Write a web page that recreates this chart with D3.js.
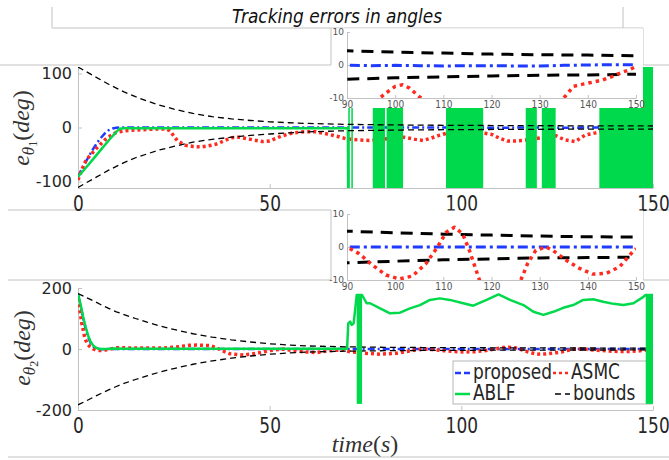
<!DOCTYPE html>
<html>
<head>
<meta charset="utf-8">
<script src="https://cdn.jsdelivr.net/npm/d3@7"></script>
<style>
  html, body { margin: 0; padding: 0; background: #fff; }
  svg { display: block; }
</style>
</head>
<body>
<svg id="grafico" width="669" height="460"></svg>
<script>

// ---------- dados (tempo em s, erro em graus) ----------

// theta 1
const tProposed1 = [0,1,2,3,4,5,6,7,8,9,10,11,12,20,30,40,50,60,70,80,90,95,100,105,110,115,120,125,130,135,140,145,150];
const eProposed1 = [-91,-77,-64,-51,-39,-28,-19,-11,-5,-2,-0.5,0,0.1,0,-0.1,0,0,-0.1,0,0,-0.1,-0.2,-0.1,-0.2,-0.3,-0.2,-0.2,-0.3,-0.3,-0.1,0,0.1,0.1];

const tAsmc1 = [0,1,2,3,4,5,6,7,8,9,10,12,14,17,20,23,24,25,26,28,30,32,34,36,38,40,42,45,48,50,53,56,59,62,65,68,70,73,76,79,82,85,88,90,92,94,96,98,100,101.5,103,105,106.5,108,110,112,114,116,118,120,122,124.6,127,129.7,132.3,135,137,139,141,143,145,147,148.5,150];
const eAsmc1 = [-97,-78,-62,-53,-45,-37,-30,-23,-17,-13,-9,-6.5,-5,-4,-3,-3,-6,-16,-25,-33,-35,-36,-34,-31,-25,-19,-18,-22,-26,-25,-16,-10,-8,-8,-12,-17,-21,-23,-24,-22,-20,-18,-22,-24,-20,-15,-11,-8.6,-6.5,-6,-7,-9.6,-11,-13,-20,-25,-25,-24,-22,-20,-18,-15,-23,-26,-14,-10,-6.5,-5.8,-5.2,-4.6,-3.5,-2.3,-1.5,-0.5];

const tAblf1 = [0,2,4,6,8,10,10.8,12,20,30,40,50,60,70,70.4,70.5];
const eAblf1 = [-91,-75,-58,-41,-24,-8,-2.5,-1.5,-1.5,-1.5,-1.5,-1.5,-1.5,-1.5,-1.5,-130];
// trechos em que o ABLF oscila de um extremo ao outro (viram blocos verdes)
const inicioOscilacao1 = [70.5,71.3,76.9,80.5,96.0,116.8,121.0,136.0];
const fimOscilacao1 = [70.9,71.7,80.1,84.8,105.7,119.7,124.6,150.0];
const extremosOscilacao1 = [-112, 112];

const tBounds1 = [0,2,4,6,8,10,12,15,18,21,25,30,35,40,45,50,55,60,70,80,90,100,110,120,130,140,150];
const boundSup1 = [112,104,96,88,80,73,66,57,49,42,34,26,20,16,13,10.5,8.8,7.5,5.8,4.9,4.3,3.9,3.6,3.3,3.1,3.0,2.8];
const boundInf1 = [-111,-103,-95,-87,-79,-72,-65,-56,-49,-42,-35,-27,-22,-18,-14.5,-12,-10,-8,-6,-5,-4.3,-3.9,-3.6,-3.3,-3.1,-3,-2.8];

// theta 2
const tProposed2 = [0,0.7,1.4,2,2.7,3.3,4,4.7,5.3,6,7,8,10,20,40,60,80,100,120,140,150];
const eProposed2 = [180,140,97,66,37,20,8,3,0.5,-1,-1,0,0,0,0,0,0,0,0,0,0];

const tAsmc2 = [0,0.5,1,1.8,2.5,3.1,4,4.9,6.6,8.4,10.2,12,15.3,22.3,26.6,29,31,34.5,36,37.1,39.7,43.1,46.6,50.1,53.5,56,58.8,62.3,65.7,69.2,71,75,78.8,83.1,88,90,92.5,95.3,98.1,100.9,103.6,106.4,108.8,110.6,112.3,114,115.4,116.8,117.5,119.7,122,124.9,126.1,127.5,129.2,131.3,132.7,135.5,138.3,141,143.8,146.6,149.7,150];
const eAsmc2 = [166,125,84,35,15,8,0,-5,-5,0,4,4,3,3,8,12,13,11,5,-3,-16,-20,-14,-5,0,-5,-9,-12,-5,-3,-9,-14,-17,-14,-3,0,-2,-5.5,-8.5,-9.7,-8.8,-5,0,4.5,6,4,-1,-7,-10,-17,-16,-12,-10,-5,-1,0,-1,-4,-6.5,-8.2,-8,-6,-0.8,-0.5];

const tAblf2 = [0,0.7,1.4,2,2.7,3.3,4,4.7,5.3,6,8,10,12,15,30,50,70.2,70.5,71,71.4,71.9,72.3,72.7,74.1,75.3,76.2,78.8,81.4,84,86.6,89.2,91.8,94.4,97,100.5,103.1,106.6,109.7,112.7,116.2,118.8,121.4,124,126.6,129.2,131.8,134.4,137,139.7,142.3,144.9,147.5,148.1,150];
const eAblf2 = [180,145,102,72,42,24,11,4,1,0,0.5,2,1,0.5,0.5,0.5,0.5,84,90,79,84,128,177,177,150,150,133,117,119,133,144,161,166,161,150,142,161,179,161,144,122,112,122,135,144,161,163,155,148,144,150,171,177,177];
const inicioOscilacao2 = [72.7,148.1];
const fimOscilacao2 = [74.1,150.0];
const extremosOscilacao2 = [-180, 177];

const tBounds2 = [0,2,4,6,8,10,12,15,18,21,25,30,35,40,45,50,55,60,70,80,90,100,110,120,130,140,150];
const boundSup2 = [182,170,158,145,133,122,113,100,88,77,64,50,39,30,23,17,13,10,7,5.6,4.8,4.3,3.9,3.6,3.3,3.1,3.0];
const boundInf2 = [-183,-171,-158,-146,-134,-123,-113,-100,-88,-77,-64,-50,-39,-30,-23,-17,-13,-10,-7,-5.6,-4.8,-4.3,-3.9,-3.6,-3.3,-3.2,-3.1];

// eixos e legenda
const ticksTempo = [0,50,100,150];
const ticksErro1 = [-100,0,100];
const ticksErro2 = [-200,0,200];
const ticksTempoZoom = [90,100,110,120,130,140,150];
const ticksErroZoom = [-10,0,10];
const nomesLegenda = ["proposed","ASMC","ABLF","bounds"];


// ---------- estilos ----------

const COR_CINZA = "#c2c2c2";
const COR_TEXTO = "#262626";

const estilos = {
    proposed: {cor:"#1f3bff", largura:2.5, traco:"7,3,2,3"},
    asmc:     {cor:"#ff2a1f", largura:3.5, traco:"3,3"},
    ablf:     {cor:"#00d94c", largura:2.5, traco:null},
    bounds:   {cor:"#000000", largura:1.3, traco:"6,4"}
};

const estilosZoom = {
    proposed: {cor:"#1f3bff", largura:3, traco:"10,4,3,4"},
    asmc:     {cor:"#ff2a1f", largura:3.5, traco:"3.5,4"},
    bounds:   {cor:"#000000", largura:3, traco:"12,8"}
};


const svg = d3.select("#grafico");

const x = d3.scaleLinear().domain([0,150]).range([78,653]);
const y1 = d3.scaleLinear().domain([-112,112]).range([188,67]);
const y2 = d3.scaleLinear().domain([-200,200]).range([410,288]);

const xZoom = d3.scaleLinear().domain([90,150]).range([347,636]);
const yZoom1 = d3.scaleLinear().domain([-10,10]).range([98,32]);
const yZoom2 = d3.scaleLinear().domain([-10,10]).range([280,214]);


function criarClip(id, xs, ys){
    svg.append("clipPath").attr("id", id)
        .append("rect")
        .attr("x", xs.range()[0])
        .attr("y", ys.range()[1])
        .attr("width", xs.range()[1] - xs.range()[0])
        .attr("height", ys.range()[0] - ys.range()[1]);
}


function desenharSerie(g, xs, ys, tempos, valores, estilo){

    const pontos = tempos.map((t, i) => [t, valores[i]]);

    const linha = d3.line()
        .x(d => xs(d[0]))
        .y(d => ys(d[1]));

    g.append("path")
        .datum(pontos)
        .attr("d", linha)
        .attr("fill", "none")
        .attr("stroke", estilo.cor)
        .attr("stroke-width", estilo.largura)
        .attr("stroke-dasharray", estilo.traco)
        .attr("stroke-linejoin", "round");
}


function desenharOscilacao(g, xs, ys, inicios, fins, extremos){

    g.selectAll(null)
        .data(inicios.map((t, i) => ({ini: t, fim: fins[i]})))
        .enter()
        .append("rect")
            .attr("x", d => xs(d.ini))
            .attr("width", d => xs(d.fim) - xs(d.ini))
            .attr("y", ys(extremos[1]))
            .attr("height", ys(extremos[0]) - ys(extremos[1]))
            .attr("fill", estilos.ablf.cor);
}


function desenharEixos(xs, ys, ticksX, ticksY, opcoes){

    const eixoX = svg.append("g")
        .attr("transform", `translate(0,${ys.range()[0]})`)
        .call(d3.axisBottom(xs)
            .tickValues(ticksX)
            .tickSizeInner(-opcoes.tamanhoTick)
            .tickSizeOuter(0)
            .tickPadding(opcoes.espacoX)
            .tickFormat(d => String(d)));

    const eixoY = svg.append("g")
        .attr("transform", `translate(${xs.range()[0]},0)`)
        .call(d3.axisLeft(ys)
            .tickValues(ticksY)
            .tickSizeInner(-opcoes.tamanhoTick)
            .tickSizeOuter(0)
            .tickPadding(opcoes.espacoY)
            .tickFormat(d => String(d)));

    [eixoX, eixoY].forEach(eixo => {
        eixo.select(".domain").attr("stroke", COR_CINZA);
        eixo.selectAll(".tick line").attr("stroke", COR_CINZA);
        eixo.selectAll("text")
            .attr("fill", opcoes.corTexto)
            .attr("font-family", "DejaVu Sans");
    });

    eixoX.selectAll("text")
        .attr("font-size", opcoes.fonteX)
        .attr("transform", `scale(1,${opcoes.esticar})`);

    eixoY.selectAll("text")
        .attr("font-size", opcoes.fonteY);
}


// ---------- molduras cinzas da figura montada ----------

const linhasMoldura = [
    [52,7,52,28], [623,7,623,28], [52,28,643,28],
    [0,65,331,65], [643,65,669,65], [331,28,331,65], [643,28,643,65],
    [8,210,331,210], [643,210,669,210], [8,280,331,280], [643,280,669,280],
    [331,210,331,280], [643,210,643,280],
    [8,457,669,457]
];

svg.append("g")
    .selectAll("line")
    .data(linhasMoldura)
    .enter()
    .append("line")
        .attr("x1", d => d[0]).attr("y1", d => d[1])
        .attr("x2", d => d[2]).attr("y2", d => d[3])
        .attr("stroke", COR_CINZA)
        .attr("stroke-width", 1);

svg.append("text")
    .attr("transform", "translate(337,23) scale(1,1.12)")
    .attr("text-anchor", "middle")
    .attr("font-family", "DejaVu Sans")
    .attr("font-style", "italic")
    .attr("font-size", 17)
    .attr("fill", "#111")
    .text("Tracking errors in angles");


// ---------- graficos principais ----------

criarClip("clip1", x, y1);
criarClip("clip2", x, y2);

const opcoesEixoPrincipal = {tamanhoTick:4, espacoX:7, espacoY:6, fonteX:17, fonteY:16, esticar:1.2, corTexto:COR_TEXTO};

desenharEixos(x, y1, ticksTempo, ticksErro1, opcoesEixoPrincipal);
desenharEixos(x, y2, ticksTempo, ticksErro2, opcoesEixoPrincipal);

const g1 = svg.append("g").attr("clip-path", "url(#clip1)");
desenharSerie(g1, x, y1, tProposed1, eProposed1, estilos.proposed);
desenharSerie(g1, x, y1, tAsmc1, eAsmc1, estilos.asmc);
desenharSerie(g1, x, y1, tAblf1, eAblf1, estilos.ablf);
desenharOscilacao(g1, x, y1, inicioOscilacao1, fimOscilacao1, extremosOscilacao1);
desenharSerie(g1, x, y1, tBounds1, boundSup1, estilos.bounds);
desenharSerie(g1, x, y1, tBounds1, boundInf1, estilos.bounds);

const g2 = svg.append("g").attr("clip-path", "url(#clip2)");
desenharSerie(g2, x, y2, tProposed2, eProposed2, estilos.proposed);
desenharSerie(g2, x, y2, tAsmc2, eAsmc2, estilos.asmc);
desenharSerie(g2, x, y2, tAblf2, eAblf2, estilos.ablf);
desenharSerie(g2, x, y2, tBounds2, boundSup2, estilos.bounds);
desenharSerie(g2, x, y2, tBounds2, boundInf2, estilos.bounds);


// ---------- legenda (grafico de baixo) ----------

const legenda = svg.append("g");

legenda.append("rect")
    .attr("x", 453).attr("y", 361)
    .attr("width", 199).attr("height", 43)
    .attr("fill", "#fff")
    .attr("stroke", "#b5b5b5");

const itensLegenda = [
    {estilo: estilos.proposed, x: 455, y: 373},
    {estilo: estilos.asmc,     x: 553, y: 373},
    {estilo: estilos.ablf,     x: 455, y: 394},
    {estilo: estilos.bounds,   x: 555, y: 394}
];

itensLegenda.forEach((item, i) => {
    legenda.append("line")
        .attr("x1", item.x).attr("x2", item.x + 15)
        .attr("y1", item.y).attr("y2", item.y)
        .attr("stroke", item.estilo.cor)
        .attr("stroke-width", Math.min(item.estilo.largura, 2.5))
        .attr("stroke-dasharray", i === 0 ? "6,3" : item.estilo.traco);

    legenda.append("text")
        .attr("transform", `translate(${item.x + 18},${item.y + 5.5}) scale(1,1.2)`)
        .attr("font-family", "DejaVu Sans")
        .attr("font-size", 17)
        .attr("fill", COR_TEXTO)
        .text(nomesLegenda[i]);
});

// os blocos do ABLF ficam por cima da borda da legenda
const g2Frente = svg.append("g").attr("clip-path", "url(#clip2)");
desenharOscilacao(g2Frente, x, y2, inicioOscilacao2, fimOscilacao2, extremosOscilacao2);


// ---------- graficos ampliados (90 a 150 s) ----------

function desenharZoom(yTopoFundo, yFundo, ys, idClip, tP, eP, tA, eA, tB, bSup, bInf){

    svg.append("rect")
        .attr("x", 332).attr("y", yTopoFundo)
        .attr("width", 311).attr("height", yFundo - yTopoFundo)
        .attr("fill", "#fff");

    desenharEixos(xZoom, ys, ticksTempoZoom, ticksErroZoom,
        {tamanhoTick:3, espacoX:2, espacoY:3, fonteX:9, fonteY:9, esticar:1.2, corTexto:"#555"});

    criarClip(idClip, xZoom, ys);
    const g = svg.append("g").attr("clip-path", `url(#${idClip})`);

    desenharSerie(g, xZoom, ys, tB, bSup, estilosZoom.bounds);
    desenharSerie(g, xZoom, ys, tB, bInf, estilosZoom.bounds);
    desenharSerie(g, xZoom, ys, tP, eP, estilosZoom.proposed);
    desenharSerie(g, xZoom, ys, tA, eA, estilosZoom.asmc);
}

desenharZoom(28.5, 108, yZoom1, "clipZoom1", tProposed1, eProposed1, tAsmc1, eAsmc1, tBounds1, boundSup1, boundInf1);
desenharZoom(210.5, 291, yZoom2, "clipZoom2", tProposed2, eProposed2, tAsmc2, eAsmc2, tBounds2, boundSup2, boundInf2);


// ---------- rotulos dos eixos ----------

function rotuloErro(xBase, yCentro, indice){
    const t = svg.append("text")
        .attr("transform", `translate(${xBase},${yCentro}) rotate(-90)`)
        .attr("text-anchor", "middle")
        .attr("font-family", "Liberation Serif")
        .attr("font-size", 24)
        .attr("fill", "#333");

    t.append("tspan").attr("font-style", "italic").text("e");
    t.append("tspan").attr("font-style", "italic").attr("font-size", 17).attr("dy", 5).text("θ");
    t.append("tspan").attr("font-size", 12).attr("dy", 3).text(indice);
    t.append("tspan").attr("dy", -8).text("(");
    t.append("tspan").attr("font-style", "italic").text("deg");
    t.append("tspan").text(")");
}

rotuloErro(29, 128, "1");
rotuloErro(30, 348, "2");

const rotuloTempo = svg.append("text")
    .attr("x", 365).attr("y", 452)
    .attr("text-anchor", "middle")
    .attr("font-family", "Liberation Serif")
    .attr("font-size", 24)
    .attr("fill", "#333");

rotuloTempo.append("tspan").attr("font-style", "italic").text("time");
rotuloTempo.append("tspan").text("(");
rotuloTempo.append("tspan").attr("font-style", "italic").text("s");
rotuloTempo.append("tspan").text(")");

</script>
</body>
</html>
